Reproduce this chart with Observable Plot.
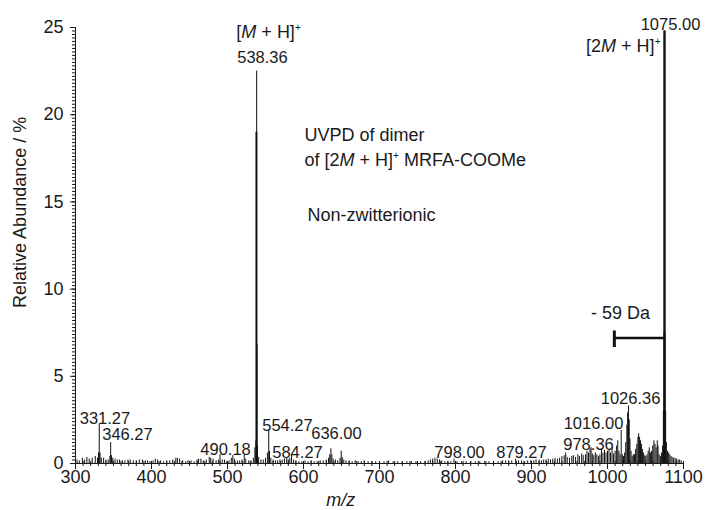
<!DOCTYPE html>
<html>
<head>
<meta charset="utf-8">
<script src="https://cdn.jsdelivr.net/npm/d3@7"></script>
<script src="https://cdn.jsdelivr.net/npm/@observablehq/plot@0.6"></script>
<style>
  body { margin: 0; background: #fff; }
  #chart svg { display: block; }
</style>
</head>
<body>
<div id="chart"></div>
<script>
// ---- data (m/z, relative abundance %) ----
const peakMz = [
  302,305,309,312,315,318,322,326,329,330.3,331.27,332.3,334,337,340,343,345.3,346.27,347.3,349,352,355,358,362,365,369,372,376,380,384,388,392,395,398,
  402,405,408,412,416,420,424,428,432,434,437,441,445,448,452,456,460,462,465,468,472,476,478,481,485,488,490.18,493,496,499,
  502,505,507,509,513,516,519,522,524,528,531,534,536,537.4,537.9,538.36,538.9,539.5,541,544,547,550,552.5,554.27,555.3,557,560,563,566,569,572,575,578,580,582,584.27,587,590,594,598,
  602,606,610,614,618,622,626,630,633,634.5,636.0,637.3,639,642,645,648,649.6,651,653,656,660,664,668,672,676,680,685,690,695,
  700,706,712,718,724,730,736,742,748,754,760,764,767,770,773,776,779,782,786,790,794,798,
  802,808,814,820,826,832,838,844,850,856,862,866,870,874,879.27,883,887,891,895,899,
  903,906,910,913,916,919,922,925,928,931,934,937,940,943,945,947,950,953,955,958,961,963,966,968,971,973,975,977,978.36,980,982,984,986,988,990,992,994,996,998,
  1000,1002,1004,1006,1008,1010,1012,1013.5,1015,1016.5,1018,1019.5,1021,1022.5,1024,1025.5,1026.5,1027.6,1028.6,1029.6,1031,1032.5,1034,1035.5,1037,1038.5,1040,1041,1042.2,1043.4,1044.6,1046,1047.5,1049,1050.5,1052,1053.5,1055,1056.5,1058,1059.5,1061,1062.5,1064,1065.5,1066.5,1068,1069.5,1071,1072.5,1073.5,1074.3,1075,1075.7,1076.5,1077.5,1079,1080.5,1082,1083.5,1085,1087,1089,1091,1093,1095,1097
];
const peakAbund = [
  0.2,0.15,0.3,0.2,0.35,0.25,0.3,0.4,0.3,0.6,2.25,0.6,0.3,0.3,0.2,0.2,0.4,1.2,0.45,0.3,0.25,0.2,0.2,0.15,0.15,0.2,0.2,0.15,0.15,0.2,0.2,0.15,0.15,0.1,
  0.15,0.25,0.2,0.15,0.1,0.15,0.15,0.2,0.3,0.3,0.25,0.15,0.1,0.15,0.15,0.1,0.2,0.25,0.25,0.15,0.2,0.35,0.3,0.25,0.15,0.2,0.5,0.2,0.2,0.1,
  0.15,0.3,0.45,0.25,0.15,0.15,0.2,0.5,0.25,0.15,0.15,0.3,0.9,1.3,19.0,22.5,6.8,1.0,0.35,0.2,0.2,0.3,0.6,1.9,0.7,0.3,0.2,0.15,0.15,0.2,0.2,0.25,0.3,0.2,0.3,0.5,0.2,0.15,0.1,0.1,
  0.15,0.1,0.15,0.1,0.1,0.15,0.15,0.2,0.3,0.5,0.85,0.5,0.25,0.2,0.15,0.3,0.7,0.35,0.2,0.15,0.15,0.1,0.15,0.1,0.1,0.15,0.1,0.1,0.1,
  0.1,0.1,0.15,0.1,0.1,0.1,0.1,0.1,0.1,0.1,0.1,0.15,0.2,0.25,0.3,0.25,0.2,0.15,0.1,0.1,0.1,0.25,
  0.1,0.1,0.1,0.1,0.1,0.1,0.1,0.1,0.1,0.1,0.15,0.15,0.15,0.15,0.25,0.15,0.15,0.1,0.15,0.15,
  0.15,0.2,0.2,0.15,0.2,0.2,0.25,0.2,0.25,0.3,0.25,0.3,0.4,0.45,0.6,0.35,0.3,0.4,0.45,0.35,0.5,0.4,0.55,0.45,0.5,0.7,0.6,0.85,0.9,0.55,0.45,0.6,0.5,0.4,0.5,0.85,0.6,0.75,0.6,
  0.7,0.8,0.6,0.9,0.55,0.7,1.0,1.3,0.7,0.5,1.9,0.5,0.4,0.6,1.2,2.2,2.9,3.3,2.5,1.4,0.7,0.4,0.5,0.5,0.8,1.1,1.5,1.7,1.5,1.3,1.1,0.8,0.6,0.45,0.4,0.5,0.7,0.9,0.6,0.7,1.0,1.3,1.1,0.9,1.3,1.0,0.5,0.4,0.6,1.0,3.0,7.5,24.8,7.5,3.0,1.2,0.7,0.6,0.5,0.4,0.35,0.3,0.3,0.25,0.2,0.2,0.15
];
const peakLabels = ["538.36","1075.00","331.27","346.27","490.18","554.27","584.27","636.00","798.00","879.27","978.36","1016.00","1026.36"];
const xTicks = [300,400,500,600,700,800,900,1000,1100];
const yTicks = [0,5,10,15,20,25];
const xMinorTicks = d3.range(300, 1101, 10);
const yMinorTicks = d3.range(0, 126).map(i => i / 5);

const spectrum = peakMz.map((mz, i) => ({mz, abund: peakAbund[i]}));

// ---- annotation placement (data units) ----
const peakNotes = [
  {t: peakLabels[0],  x: 546,    y: 22.94},
  {t: peakLabels[1],  x: 1082.9, y: 24.83},
  {t: peakLabels[2],  x: 338.8,  y: 2.29},
  {t: peakLabels[3],  x: 368.4,  y: 1.32},
  {t: peakLabels[4],  x: 497.4,  y: 0.46},
  {t: peakLabels[5],  x: 578.9,  y: 1.89},
  {t: peakLabels[6],  x: 592.1,  y: 0.34},
  {t: peakLabels[7],  x: 643.4,  y: 1.38},
  {t: peakLabels[8],  x: 805.3,  y: 0.34},
  {t: peakLabels[9],  x: 886.8,  y: 0.34},
  {t: peakLabels[10], x: 975,    y: 0.80},
  {t: peakLabels[11], x: 981.6,  y: 2.0},
  {t: peakLabels[12], x: 1030.3, y: 3.44}
];
const textNotes = [
  {t: "UVPD of dimer", x: 601.3, y: 18.52},
  {t: "of [2M + H]+ MRFA-COOMe", x: 601.3, y: 17.03},
  {t: "Non-zwitterionic", x: 605.3, y: 13.93}
];

const ink = "#1a1a1a";
const font = "'Liberation Sans', Arial, Helvetica, sans-serif";

const chart = Plot.plot({
  width: 709,
  height: 510,
  marginLeft: 75,
  marginRight: 26,
  marginTop: 27,
  marginBottom: 47,
  style: {fontFamily: font, color: ink, background: "#fff", overflow: "visible"},
  x: {domain: [300, 1100]},
  y: {domain: [0, 25]},
  marks: [
    // axes
    Plot.axisY(yMinorTicks, {tickSize: 3, tickFormat: () => "", label: null}),
    Plot.axisY(yTicks, {tickSize: 5, tickPadding: 7, fontSize: 18, label: null, tickFormat: d => String(d)}),
    Plot.axisX(xMinorTicks, {tickSize: 3, tickFormat: () => "", label: null}),
    Plot.axisX(xTicks, {tickSize: 6, tickPadding: 1, fontSize: 18, label: null, tickFormat: d => String(d)}),
    Plot.ruleX(xMinorTicks, {y1: 0, y2: 0.12, stroke: ink}),
    Plot.ruleX([300], {y1: 0, y2: 25, stroke: ink}),
    Plot.ruleY([0], {stroke: ink}),
    // spectrum sticks
    Plot.ruleX(spectrum, {x: "mz", y1: 0, y2: "abund", stroke: "#111", strokeWidth: 1}),
    Plot.ruleX(spectrum.filter(d => d.abund > 20 && d.mz > 1000), {x: "mz", y1: 0, y2: "abund", stroke: "#111", strokeWidth: 2.4}),
    Plot.ruleX(spectrum.filter(d => d.abund > 15 && d.mz < 600), {x: "mz", y1: 0, y2: d => Math.min(d.abund, 19), stroke: "#111", strokeWidth: 1.4}),
    // -59 Da bracket
    Plot.ruleY([7.2], {x1: 1009, x2: 1075, stroke: "#111", strokeWidth: 2.6}),
    Plot.ruleX([1009], {y1: 6.65, y2: 7.6, stroke: "#111", strokeWidth: 3}),
    Plot.text([{t: "- 59 Da", x: 1017.1, y: 8.31}], {x: "x", y: "y", text: "t", fontSize: 18, lineAnchor: "bottom", fill: ink}),
    // labels
    Plot.text(peakNotes, {x: "x", y: "y", text: "t", fontSize: 16.5, lineAnchor: "bottom", fill: ink}),
    Plot.text(textNotes, {x: "x", y: "y", text: "t", fontSize: 18, textAnchor: "start", lineAnchor: "bottom", fill: ink}),
    Plot.text([{t: "[M + H]+", x: 554, y: 24.37}], {x: "x", y: "y", text: "t", fontSize: 18, textAnchor: "middle", lineAnchor: "bottom", fill: ink}),
    Plot.text([{t: "[2M + H]+", x: 1069.7, y: 23.57}], {x: "x", y: "y", text: "t", fontSize: 18, textAnchor: "end", lineAnchor: "bottom", fill: ink}),
    // axis titles
    Plot.text([{t: "Relative Abundance / %", x: 300, y: 14.4}], {x: "x", y: "y", text: "t", dx: -55, rotate: -90, fontSize: 18, fill: ink}),
    Plot.text([{t: "m/z", x: 649, y: 0}], {x: "x", y: "y", text: "t", dy: 42, fontSize: 18, fontStyle: "italic", lineAnchor: "bottom", fill: ink})
  ]
});

// italic M and superscript + in ion notation
function richify(node) {
  const s = node.textContent;
  if (!/ \+ H\]\+/.test(s)) return;
  while (node.firstChild) node.removeChild(node.firstChild);
  const ns = "http://www.w3.org/2000/svg";
  const add = (txt, attrs) => {
    const t = document.createElementNS(ns, "tspan");
    t.textContent = txt;
    for (const k in attrs) t.setAttribute(k, attrs[k]);
    node.appendChild(t);
  };
  const re = /M(?= \+ H\])|\]\+/g;
  let last = 0, m, restore = false;
  while ((m = re.exec(s))) {
    if (m.index > last) { add(s.slice(last, m.index), restore ? {dy: "7"} : {}); restore = false; }
    if (m[0] === "M") { add("M", restore ? {"font-style": "italic", dy: "7"} : {"font-style": "italic"}); restore = false; }
    else { add("]", restore ? {dy: "7"} : {}); add("+", {dy: "-7", "font-size": "10"}); restore = true; }
    last = re.lastIndex;
  }
  if (last < s.length) add(s.slice(last), restore ? {dy: "7"} : {});
}
d3.select(chart).selectAll("text").each(function () { richify(this); });

document.getElementById("chart").appendChild(chart);
</script>
</body>
</html>
